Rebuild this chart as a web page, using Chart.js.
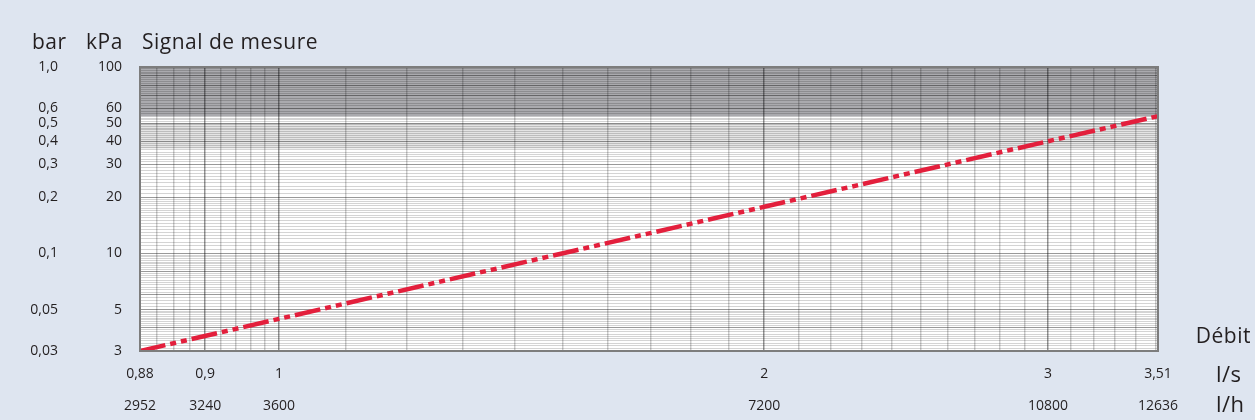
<!DOCTYPE html>
<html lang="fr">
<head>
<meta charset="utf-8">
<title>Signal de mesure</title>
<script src="https://cdn.jsdelivr.net/npm/chart.js@4.4.1/dist/chart.umd.min.js"></script>
<style>
  html, body { margin: 0; padding: 0; background: #dee5f0; }
  #wrap { position: relative; width: 1255px; height: 420px; }
</style>
</head>
<body>
<div id="wrap"><canvas id="grafico"></canvas></div>
<script>
// Courbe : débit (l/s) -> signal de mesure (kPa)
const debit = [0.82, 1, 2, 3, 3.51];
const pression = [3.0, 4.46, 17.8, 40.0, 54.5];

// Graduations étiquetées
const debitTicks = [0.82, 0.9, 1, 2, 3, 3.51];
const debitLabelsLs = ['0,88', '0,9', '1', '2', '3', '3,51'];
const debitLabelsLh = ['2952', '3240', '3600', '7200', '10800', '12636'];
const kpaTicks = [3, 5, 10, 20, 30, 40, 50, 60, 100];
const kpaLabels = ['3', '5', '10', '20', '30', '40', '50', '60', '100'];
const barLabels = ['0,03', '0,05', '0,1', '0,2', '0,3', '0,4', '0,5', '0,6', '1,0'];

// Zones grisées (kPa)
const zoneFoncee = [54.5, 100];
const zoneClaire = [36.5, 50];

// Lignes principales du papier log
const majeursX = [0.9, 1, 2, 3];
const majeursY = [4, 5, 6, 8, 10, 20, 30, 40, 50, 60, 70, 80, 90];

const TXT = '#231f20';
const FONT = '"Open Sans", "Noto Sans", sans-serif';

// Quadrillage fin (papier millimétré log)
const gridX = [];
for (let v = 82; v < 100; v += 2) gridX.push(v / 100);
for (let v = 10; v <= 35; v++) gridX.push(v / 10);
gridX.push(3.51);

const gridY = [];
function ajouter(de, a, pas) {
  for (let v = de; v < a - 1e-9; v += pas) gridY.push(Math.round(v * 10) / 10);
}
ajouter(3, 5, 0.1);
ajouter(5, 10, 0.2);
ajouter(10, 20, 0.5);
ajouter(20, 36, 1);
ajouter(36, 54, 1);
ajouter(54, 100.01, 2);

const idx = (liste, v) => liste.findIndex(t => Math.abs(t - v) < 1e-6);
const estDans = (liste, v) => idx(liste, v) >= 0;

const papier = {
  id: 'papier',
  beforeDraw(chart) {
    const { ctx, chartArea: a, scales: { y } } = chart;
    ctx.save();
    ctx.fillStyle = '#ffffff';
    ctx.fillRect(a.left, a.top, a.width, a.height);
    let y1 = y.getPixelForValue(zoneClaire[1]), y0 = y.getPixelForValue(zoneClaire[0]);
    ctx.fillStyle = '#e4e4e4';
    ctx.fillRect(a.left, y1, a.width, y0 - y1);
    y1 = y.getPixelForValue(zoneFoncee[1]); y0 = y.getPixelForValue(zoneFoncee[0]);
    ctx.fillStyle = '#aaaaae';
    ctx.fillRect(a.left, y1, a.width, y0 - y1);
    ctx.restore();
  },
  afterDraw(chart) {
    const { ctx, chartArea: a } = chart;
    ctx.save();
    ctx.strokeStyle = '#7d7d7d';
    ctx.lineWidth = 2;
    ctx.strokeRect(a.left, a.top, a.width, a.height);

    ctx.fillStyle = TXT;
    ctx.textBaseline = 'middle';
    ctx.textAlign = 'left';
    ctx.font = '21px ' + FONT;
    ctx.letterSpacing = '0.5px';
    ctx.fillText('bar', 32, 43);
    ctx.fillText('kPa', 86, 43);
    ctx.fillText('Signal de mesure', 142, 43);
    ctx.textAlign = 'right';
    ctx.fillText('Débit', 1251, 337);
    ctx.font = '22px ' + FONT;
    ctx.textAlign = 'left';
    ctx.fillText('l/s', 1216, 376);
    ctx.fillText('l/h', 1216, 406);
    ctx.restore();
  }
};

const ctx = document.getElementById('grafico').getContext('2d');

new Chart(ctx, {
  type: 'line',
  data: {
    datasets: [{
      data: debit.map((d, i) => ({ x: d, y: pression[i] })),
      borderColor: '#e31f3c',
      borderWidth: 4.5,
      borderDash: [26, 5, 6, 5, 6, 5],
      pointRadius: 0,
      tension: 0
    }]
  },
  options: {
    responsive: true,
    maintainAspectRatio: false,
    animation: false,
    layout: { padding: { top: 67, right: 97, left: 0, bottom: 0 } },
    plugins: { legend: { display: false }, tooltip: { enabled: false } },
    scales: {
      x: {
        type: 'logarithmic',
        position: 'bottom',
        weight: 0,
        min: 0.82,
        max: 3.51,
        afterBuildTicks: s => { s.ticks = gridX.map(v => ({ value: v })); },
        afterFit: s => { s.height = 35; },
        ticks: {
          autoSkip: false,
          maxRotation: 0,
          padding: 15,
          color: TXT,
          font: { family: FONT, size: 14 },
          callback: v => { const i = idx(debitTicks, v); return i >= 0 ? debitLabelsLs[i] : ''; }
        },
        grid: {
          drawTicks: false,
          color: c => estDans(majeursX, c.tick.value) ? 'rgba(0,0,0,0.42)' : 'rgba(0,0,0,0.2)',
          lineWidth: 1.5
        },
        border: { color: '#7d7d7d', width: 2 }
      },
      xh: {
        type: 'logarithmic',
        position: 'bottom',
        weight: 1,
        min: 0.82,
        max: 3.51,
        afterBuildTicks: s => { s.ticks = debitTicks.map(v => ({ value: v })); },
        afterFit: s => { s.height = 34; },
        ticks: {
          autoSkip: false,
          maxRotation: 0,
          padding: 4,
          color: TXT,
          font: { family: FONT, size: 14 },
          callback: v => { const i = idx(debitTicks, v); return i >= 0 ? debitLabelsLh[i] : ''; }
        },
        grid: { display: false },
        border: { display: false }
      },
      y: {
        type: 'logarithmic',
        position: 'left',
        weight: 0,
        min: 3,
        max: 100,
        afterBuildTicks: s => { s.ticks = gridY.map(v => ({ value: v })); },
        afterFit: s => { s.width = 60; },
        ticks: {
          autoSkip: false,
          padding: 18,
          color: TXT,
          font: { family: FONT, size: 14 },
          callback: v => { const i = idx(kpaTicks, v); return i >= 0 ? kpaLabels[i] : ''; }
        },
        grid: {
          drawTicks: false,
          color: c => estDans(majeursY, c.tick.value) ? 'rgba(0,0,0,0.4)' : 'rgba(0,0,0,0.17)',
          lineWidth: 1
        },
        border: { color: '#7d7d7d', width: 2 }
      },
      yBar: {
        type: 'logarithmic',
        position: 'left',
        weight: 1,
        min: 3,
        max: 100,
        afterBuildTicks: s => { s.ticks = kpaTicks.map(v => ({ value: v })); },
        afterFit: s => { s.width = 80; },
        ticks: {
          autoSkip: false,
          padding: 14,
          color: TXT,
          font: { family: FONT, size: 14 },
          callback: v => { const i = idx(kpaTicks, v); return i >= 0 ? barLabels[i] : ''; }
        },
        grid: { display: false },
        border: { display: false }
      }
    }
  },
  plugins: [papier]
});
</script>
</body>
</html>
